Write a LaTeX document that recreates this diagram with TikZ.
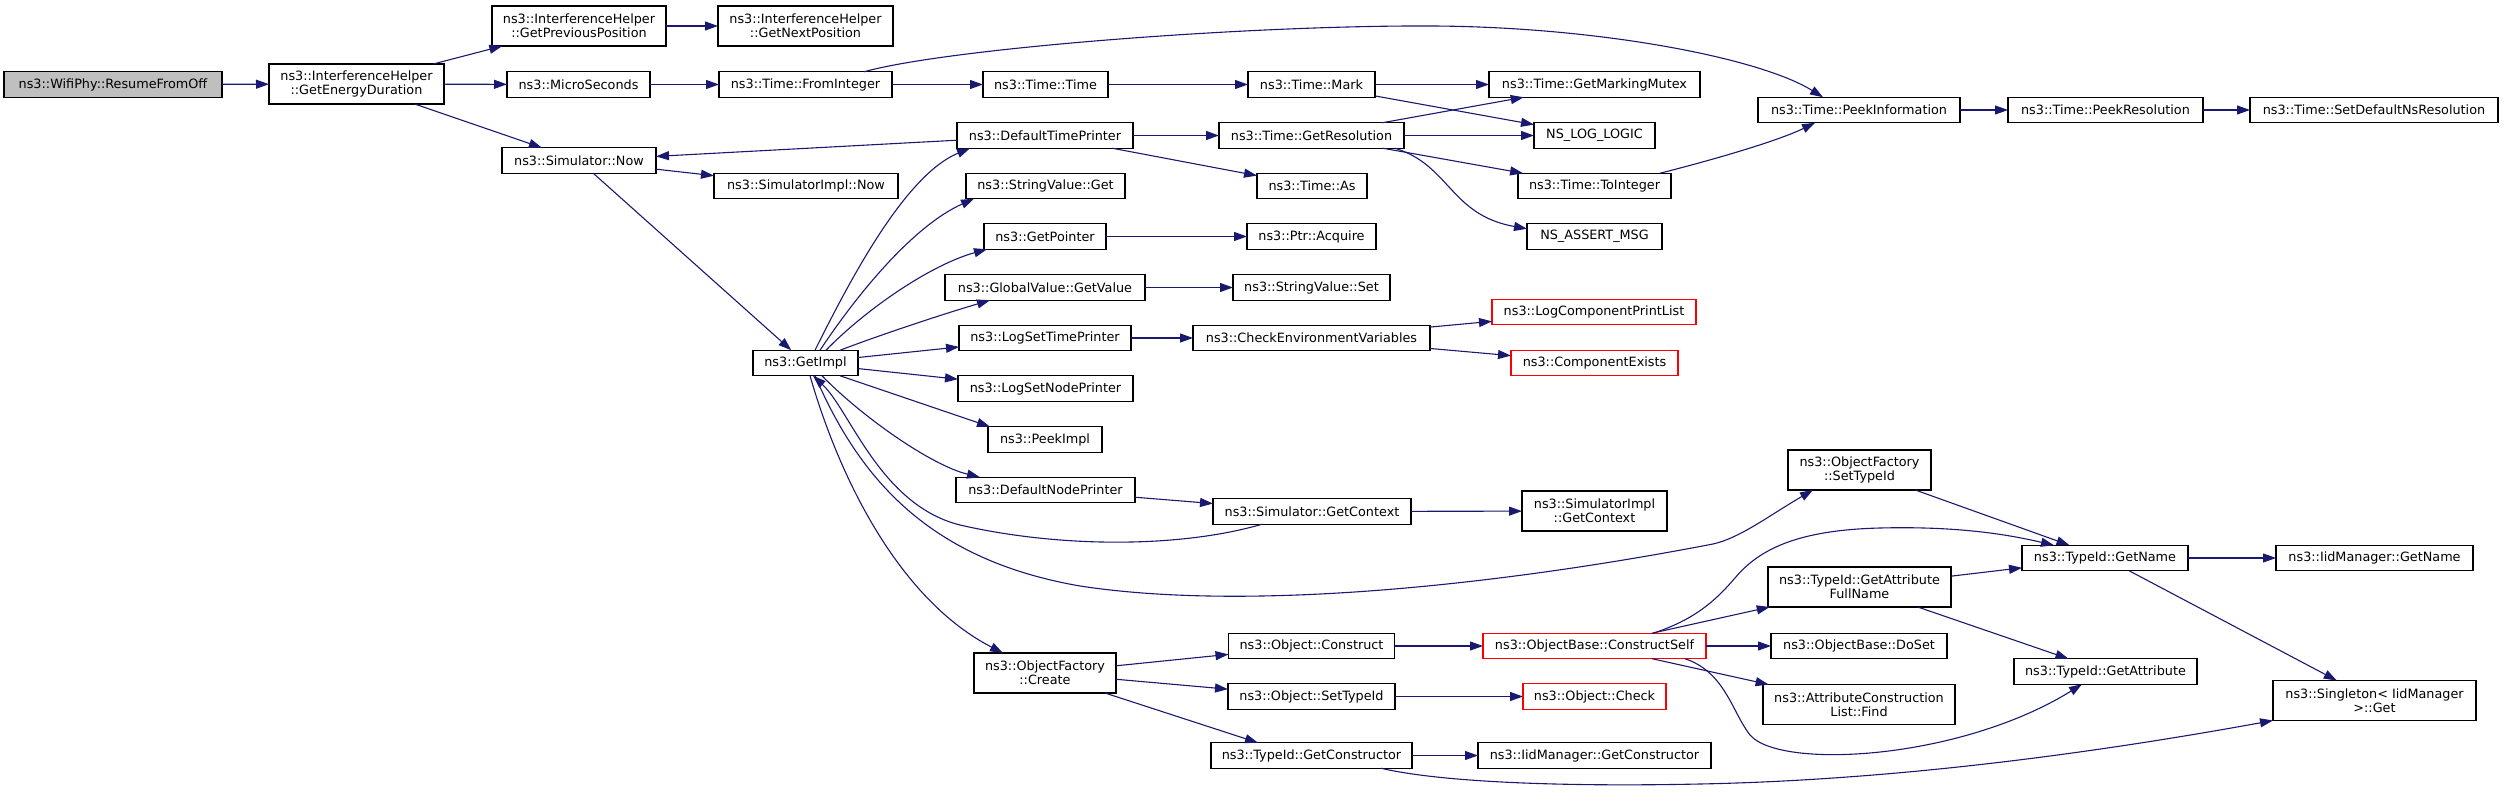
\documentclass[tikz,border=0pt]{standalone}
\usepackage{fontspec}
\setmainfont{DejaVu Sans}
\usetikzlibrary{arrows.meta}
\definecolor{edgec}{RGB}{25,25,112}
\definecolor{nodegray}{RGB}{191,191,191}
\definecolor{redb}{RGB}{255,0,0}
\begin{document}
\begin{tikzpicture}[x=1pt,y=-1pt,
  font=\fontsize{12.8}{14.2}\selectfont,
  box/.style={draw=black, line width=1.4pt, fill=white, inner sep=0pt, outer sep=0pt, align=center},
  sb/.style={box, minimum height=25.5pt, minimum width=#1pt},
  db/.style={box, minimum height=40pt, minimum width=#1pt},
  redbox/.style={draw=redb},
  e/.style={draw=edgec, line width=1.1pt, -{Triangle[length=13pt,width=9pt]}}]
\useasboundingbox (0,0) rectangle (2504,792);

% nodes
\node[sb=218, fill=nodegray] (wifi) at (113,84.5) {ns3::WifiPhy::ResumeFromOff};
\node[db=175] (ged) at (356.5,84) {ns3::InterferenceHelper\\::GetEnergyDuration};
\node[db=174] (gpp) at (579,26) {ns3::InterferenceHelper\\::GetPreviousPosition};
\node[db=175] (gnp) at (805.5,26) {ns3::InterferenceHelper\\::GetNextPosition};
\node[sb=143] (micro) at (578.5,84.5) {ns3::MicroSeconds};
\node[sb=173] (fromint) at (805.5,84.5) {ns3::Time::FromInteger};
\node[sb=154] (simnow) at (579,160.5) {ns3::Simulator::Now};
\node[sb=184] (implnow) at (806,186) {ns3::SimulatorImpl::Now};
\node[sb=105] (getimpl) at (805.5,363) {ns3::GetImpl};
\node[sb=125] (ttime) at (1045.5,84.5) {ns3::Time::Time};
\node[sb=127] (mark) at (1311.5,84.5) {ns3::Time::Mark};
\node[sb=211] (mutex) at (1594.5,84.5) {ns3::Time::GetMarkingMutex};
\node[sb=176] (dtp) at (1045,135.5) {ns3::DefaultTimePrinter};
\node[sb=185] (getres) at (1311.5,135.5) {ns3::Time::GetResolution};
\node[sb=121] (nslog) at (1594.5,135.5) {NS\_LOG\_LOGIC};
\node[sb=159] (svget) at (1045.5,186) {ns3::StringValue::Get};
\node[sb=110] (timeas) at (1312,186) {ns3::Time::As};
\node[sb=153] (toint) at (1594.5,186) {ns3::Time::ToInteger};
\node[sb=122] (getptr) at (1045,236.5) {ns3::GetPointer};
\node[sb=129] (acquire) at (1311.5,236.5) {ns3::Ptr::Acquire};
\node[sb=135] (assert) at (1594.5,236.5) {NS\_ASSERT\_MSG};
\node[sb=200] (gvget) at (1045,287.5) {ns3::GlobalValue::GetValue};
\node[sb=157] (svset) at (1311.5,287.5) {ns3::StringValue::Set};
\node[sb=204, redbox] (logcomp) at (1594,312) {ns3::LogComponentPrintList};
\node[sb=172] (lstp) at (1045,338) {ns3::LogSetTimePrinter};
\node[sb=237] (checkenv) at (1311.5,338) {ns3::CheckEnvironmentVariables};
\node[sb=167, redbox] (compex) at (1594.5,363) {ns3::ComponentExists};
\node[sb=175] (lsnp) at (1045.5,388.5) {ns3::LogSetNodePrinter};
\node[sb=114] (peekimpl) at (1045,439.5) {ns3::PeekImpl};
\node[sb=179] (dnp) at (1045.5,490) {ns3::DefaultNodePrinter};
\node[sb=198] (simctx) at (1312,511.5) {ns3::Simulator::GetContext};
\node[db=145] (implctx) at (1594.5,511) {ns3::SimulatorImpl\\::GetContext};
\node[db=142] (create) at (1045,673) {ns3::ObjectFactory\\::Create};
\node[sb=166] (construct) at (1311.5,646) {ns3::Object::Construct};
\node[sb=223, redbox] (cself) at (1594.5,646) {ns3::ObjectBase::ConstructSelf};
\node[sb=167] (osettid) at (1311.5,696.5) {ns3::Object::SetTypeId};
\node[sb=143, redbox] (check) at (1594.5,696.5) {ns3::Object::Check};
\node[sb=201] (getctor) at (1311.5,755.5) {ns3::TypeId::GetConstructor};
\node[sb=233] (iidctor) at (1594.5,755.5) {ns3::IidManager::GetConstructor};
\node[db=143] (ofsettid) at (1859.5,470) {ns3::ObjectFactory\\::SetTypeId};
\node[sb=166] (getname) at (2105,558) {ns3::TypeId::GetName};
\node[sb=197] (iidname) at (2374.5,558) {ns3::IidManager::GetName};
\node[db=183] (attrfull) at (1859.5,587) {ns3::TypeId::GetAttribute\\FullName};
\node[sb=176] (doset) at (1859,646) {ns3::ObjectBase::DoSet};
\node[sb=183] (getattr) at (2105.5,671.5) {ns3::TypeId::GetAttribute};
\node[db=192] (acfind) at (1859,704.5) {ns3::AttributeConstruction\\List::Find};
\node[db=203] (singleton) at (2374.5,700.5) {ns3::Singleton< IidManager\\>::Get};
\node[sb=202] (peekinfo) at (1859,110) {ns3::Time::PeekInformation};
\node[sb=195] (peekres) at (2105.5,110) {ns3::Time::PeekResolution};
\node[sb=248] (setdef) at (2374,110) {ns3::Time::SetDefaultNsResolution};

% edges
\draw[e] (wifi) -- (ged);
\draw[e] (ged) -- (gpp);
\draw[e] (ged) -- (micro);
\draw[e] (ged) -- (simnow);
\draw[e] (gpp) -- (gnp);
\draw[e] (micro) -- (fromint);
\draw[e] (fromint) -- (ttime);
\draw[e] ([xshift=145pt]fromint.north west) .. controls (950,48) and (1250,25) .. (1433,26)
   .. controls (1600,27) and (1760,58) .. ([xshift=65pt]peekinfo.north west);
\draw[e] (ttime) -- (mark);
\draw[e] (mark) -- (mutex);
\draw[e] (mark) -- (nslog);
\draw[e] (getres) -- (mutex);
\draw[e] (getres) -- (nslog);
\draw[e] (getres) -- (toint);
\draw[e] ([xshift=-9pt]getres.south east) .. controls (1450,165) and (1450,215) .. ([yshift=-5pt]assert.north west);
\draw[e] ([xshift=-11pt]toint.north east) .. controls (1720,158) and (1780,140) .. ([xshift=57pt]peekinfo.south west);
\draw[e] (peekinfo) -- (peekres);
\draw[e] (peekres) -- (setdef);
\draw[e] (dtp) -- (simnow);
\draw[e] (dtp) -- (getres);
\draw[e] (dtp) -- (timeas);
\draw[e] (simnow) -- (implnow);
\draw[e] (simnow) -- (getimpl);
% GetImpl fan
\draw[e] ([xshift=62pt]getimpl.north west) .. controls (850,280) and (905,175) .. ([xshift=13pt]dtp.south west);
\draw[e] ([xshift=67pt]getimpl.north west) .. controls (860,290) and (915,225) .. ([xshift=8pt]svget.south west);
\draw[e] ([xshift=73pt]getimpl.north west) .. controls (865,310) and (930,265) .. ([xshift=3pt]getptr.south west);
\draw[e] ([xshift=87pt]getimpl.north west) .. controls (880,335) and (940,315) .. ([xshift=45pt]gvget.south west);
\draw[e] (getimpl) -- (lstp);
\draw[e] (getimpl) -- (lsnp);
\draw[e] ([xshift=87pt]getimpl.south west) -- ([xshift=2pt]peekimpl.north west);
\draw[e] ([xshift=69pt]getimpl.south west) .. controls (860,415) and (930,465) .. ([xshift=24pt]dnp.north west);
\draw[e] ([xshift=49pt]simctx.south west) .. controls (1180,548) and (1060,548) .. (960,525)
   .. controls (880,505) and (850,410) .. ([xshift=60pt]getimpl.south west);
\draw[e] ([xshift=62pt]getimpl.south west) .. controls (860,480) and (930,560) .. (1080,586)
   .. controls (1250,612) and (1500,585) .. (1713,544)
   .. controls (1740,538) and (1770,515) .. ([xshift=25pt]ofsettid.south west);
\draw[e] ([xshift=57pt]getimpl.south west) .. controls (840,480) and (900,600) .. ([xshift=29pt]create.north west);
\draw[e] (dnp) -- (simctx);
\draw[e] (simctx) -- (implctx);
\draw[e] (gvget) -- (svset);
\draw[e] (getptr) -- (acquire);
\draw[e] (lstp) -- (checkenv);
\draw[e] (checkenv) -- (logcomp);
\draw[e] (checkenv) -- (compex);
\draw[e] (create) -- (construct);
\draw[e] (create) -- (osettid);
\draw[e] ([xshift=131pt]create.south west) -- ([xshift=47pt]getctor.north west);
\draw[e] (construct) -- (cself);
\draw[e] (osettid) -- (check);
\draw[e] (getctor) -- (iidctor);
\draw[e] ([xshift=170pt]getctor.south west) .. controls (1440,782) and (1560,787) .. (1700,784)
   .. controls (1900,780) and (2100,752) .. (singleton.south west);
\draw[e] ([xshift=170pt]cself.north west) .. controls (1700,618) and (1720,595) .. (1735,578)
   .. controls (1760,548) and (1800,530) .. (1880,528)
   .. controls (1960,526) and (2010,535) .. ([xshift=32pt]getname.north west);
\draw[e] (cself) -- (attrfull);
\draw[e] (cself) -- (doset);
\draw[e] (cself) -- (acfind);
\draw[e] ([xshift=202pt]cself.south west) .. controls (1725,672) and (1732,712) .. (1750,735)
   .. controls (1780,770) and (1960,760) .. ([xshift=68pt]getattr.south west);
\draw[e] (ofsettid) -- (getname);
\draw[e] (attrfull) -- (getname);
\draw[e] (attrfull) -- (getattr);
\draw[e] (getname) -- (iidname);
\draw[e] (getname) -- (singleton);
\end{tikzpicture}
\end{document}
